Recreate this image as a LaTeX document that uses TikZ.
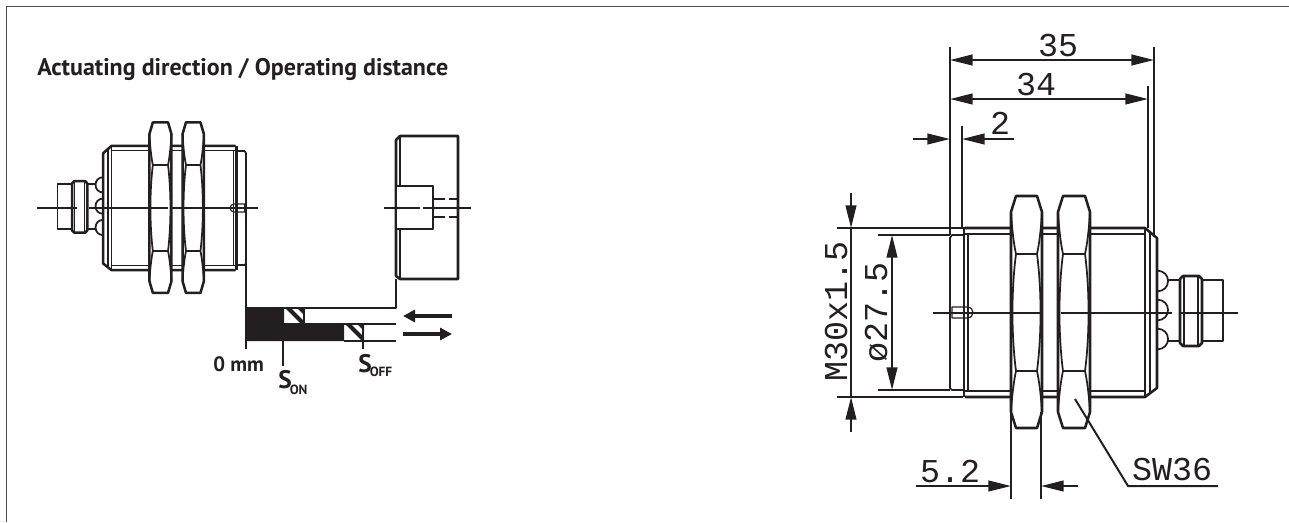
\documentclass[tikz,border=0pt]{standalone}
\usepackage{fontspec}
\usetikzlibrary{arrows.meta}
\setmainfont{PT Sans}
\newfontfamily\dimfont{Liberation Mono}
\definecolor{ink}{HTML}{231F20}
\tikzset{
  thin line/.style={draw=ink,line width=0.9pt,line join=round},
  med line/.style={draw=ink,line width=1.3pt,line join=round},
  hvy line/.style={draw=ink,line width=1.9pt,line join=round},
  dimline/.style={draw=ink,line width=1.5pt},
  tipL/.style={dimline,-{Triangle[length=17pt,width=8pt,fill=ink]}},
  tipB/.style={dimline,{Triangle[length=17pt,width=8pt,fill=ink]}-{Triangle[length=17pt,width=8pt,fill=ink]}},
  dimtext/.style={inner sep=0pt,text=ink,font=\dimfont\fontsize{25}{25}\selectfont},
  titletext/.style={inner sep=0pt,text=ink,font=\bfseries\fontsize{18}{20}\selectfont,anchor=base west},
  labeltext/.style={inner sep=0pt,text=ink,font=\bfseries\fontsize{15.6}{18}\selectfont,anchor=base west},
  subtext/.style={inner sep=0pt,text=ink,font=\bfseries\fontsize{10}{12}\selectfont,anchor=base west},
  bigS/.style={inner sep=0pt,text=ink,font=\bfseries\fontsize{19}{20}\selectfont,anchor=base west},
  flow arrow/.style={draw=ink,line width=2.4pt,-{Triangle[length=9pt,width=9pt,fill=ink]}},
}
% one sensor, in the coordinates of the right-hand drawing
\newcommand{\nutshape}[2]{% #1 left x, #2 right x
  \pgfmathsetmacro{\na}{#1+5}\pgfmathsetmacro{\nb}{#2-5}
  \pgfmathsetmacro{\nc}{#1+0.3}\pgfmathsetmacro{\nd}{#2-0.3}
  \draw[hvy line,fill=white] (\na,196) -- (\nb,196) -- (#2,212) -- (#2,412) -- (\nb,428) -- (\na,428) -- (#1,412) -- (#1,212) -- cycle;
  \draw[med line] (\na,254) -- (\nb,254) (\na,371) -- (\nb,371);
  \draw[med line] (#1,212) .. controls (#1+1,230) and (#1+3,245) .. (\na,254)
     .. controls (\nc,290) and (\nc,335) .. (\na,371)
     .. controls (#1+3,380) and (#1+1,395) .. (#1,412);
  \draw[med line] (#2,212) .. controls (#2-1,230) and (#2-3,245) .. (\nb,254)
     .. controls (\nd,290) and (\nd,335) .. (\nb,371)
     .. controls (#2-3,380) and (#2-1,395) .. (#2,412);
}
\newcommand{\sensorbody}{%
  % body and thread lines
  \draw[hvy line] (965,228) -- (1145,228) -- (1157,238) -- (1157,388) -- (1145,397) -- (965,397);
  \draw[thin line] (965,234) -- (1145,234) (965,391) -- (1145,391);
  \draw[med line] (1145,228) -- (1145,397) (1150,232) -- (1150,392);
  \draw[hvy line] (964,228) -- (964,397);
  \draw[thin line] (968,234) -- (968,391);
  % front cap
  \draw[med line] (963,235) -- (952,235) -- (950,238) -- (950,388) -- (952,390) -- (963,390);
  % pin slot
  \draw[thin line] (952,307) -- (967,307) .. controls (975,307) and (975,318) .. (967,318) -- (952,318) -- cycle;
  % nuts
  \nutshape{1011}{1042}
  \nutshape{1058}{1090}
  % cable bumps
  \foreach \c in {281,310,339}{
    \draw[med line] (1157,\c-10.5) .. controls (1164,\c-10) and (1168,\c-6) .. (1168,\c)
       .. controls (1168,\c+6) and (1164,\c+10) .. (1157,\c+10.5);
  }
  % plug
  \draw[med line] (1168,280) -- (1180,280) (1168,341) -- (1180,341);
  \draw[med line] (1202,280) -- (1223,280) -- (1223,341) -- (1202,341);
  \draw[hvy line] (1183,276) -- (1199,276) -- (1202,279) -- (1202,343) -- (1199,346) -- (1183,346) -- (1180,343) -- (1180,279) -- cycle;
  \draw[thin line] (1184,276) -- (1184,346) (1198,276) -- (1198,346);
}
\begin{document}
\begin{tikzpicture}[x=0.75pt,y=-0.75pt]
\useasboundingbox (0,0) rectangle (1289,522);
% frame
\draw[draw=ink!80,line width=1pt] (6.5,522) -- (6.5,6.5) -- (1289,6.5);
% title
\node[titletext] (title) at (37,75) {Actuating direction / Operating distance};

% ---- left sensor, mirrored and reduced
\begin{scope}[shift={(246,208)},xscale=-0.69,yscale=0.735,shift={(-950,-312.5)}]
  \sensorbody
\end{scope}
\draw[dimline] (37,208) -- (77,208) (89,208) -- (168,208) (171,208) -- (258,208);

% ---- target
\draw[hvy line] (400,136) -- (458,136) -- (458,279) -- (400,279) -- (396,276) -- (396,140) -- cycle;
\draw[med line] (400,136) -- (400,186) (400,229) -- (400,279);
\draw[hvy line,fill=white] (396,186) -- (433,186) -- (433,229) -- (396,229) -- cycle;
\draw[hvy line,dash pattern=on 9pt off 3pt] (433,199) -- (458,199) (433,217) -- (458,217);
\draw[dimline] (384,208) -- (420,208) (423,208) -- (471,208);

% ---- distance bars
\draw[hvy line] (246,263) -- (246,349);
\draw[hvy line] (246,308) -- (396,308) -- (396,279);
\fill[ink] (246,308) -- (284,308) -- (284,324) -- (344,324) -- (344,341) -- (246,341) -- cycle;
\begin{scope}
  \clip (284,308) rectangle (304,324);
  \draw[line width=3pt,ink] (286,306) -- (304,324);
  \draw[line width=3pt,ink] (298,306) -- (306,314);
\end{scope}
\begin{scope}
  \clip (344,324) rectangle (364,341);
  \draw[line width=3pt,ink] (346,322) -- (364,340);
  \draw[line width=3pt,ink] (358,322) -- (366,330);
\end{scope}
\draw[hvy line] (304,308) -- (304,324);
\draw[hvy line] (284,324) -- (396,324);
\draw[hvy line] (344,341) -- (396,341);
\draw[hvy line] (363,324) -- (363,349);
\draw[hvy line] (283,341) -- (283,366);
\coordinate (arrowLa) at (452,316); \coordinate (arrowLb) at (403,316);
\coordinate (arrowRa) at (403,334); \coordinate (arrowRb) at (452,334);
\draw[flow arrow] (arrowLa) -- (arrowLb);
\draw[flow arrow] (arrowRa) -- (arrowRb);
\node[labeltext] (zero) at (213,371) {0 mm};
\node[bigS] (son) at (278,388) {S};
\node[subtext] (sonb) at (289.5,394) {ON};
\node[bigS] (soff) at (358,372) {S};
\node[subtext] (soffb) at (369.5,376) {OFF};

% ---- right sensor
\sensorbody
\draw[dimline] (933,312.5) -- (1043,312.5) (1061,312.5) -- (1172,312.5) (1180,312.5) -- (1238,312.5);

% extension lines
\draw[dimline] (950,47) -- (950,235);
\draw[dimline] (962,126) -- (962,228);
\draw[dimline] (1154,47) -- (1154,237);
\draw[dimline] (1148,86) -- (1148,228);
\draw[dimline] (837,228) -- (1011,228);
\draw[dimline] (837,397) -- (963,397);
\draw[dimline] (878,235) -- (950,235);
\draw[dimline] (878,390) -- (950,390);
\draw[dimline] (1011,413) -- (1011,499);
\draw[dimline] (1041,412) -- (1041,499);
% dimension lines
\draw[tipB] (950,60) -- (1154,60);
\draw[tipB] (950,99) -- (1148,99);
\draw[tipL] (913,139) -- (950,139);
\draw[tipL] (1014,139) -- (962,139);
\draw[dimline] (851,228) -- (851,397);
\draw[tipL] (851,193) -- (851,228);
\draw[tipL] (851,432) -- (851,397);
\draw[tipB] (892,235) -- (892,390);
\draw[tipL] (916,486) -- (1011,486);
\draw[tipL] (1078,486) -- (1041,486);
% SW36 leader
\draw[dimline] (1075,399) -- (1128,486) -- (1218,486);
% dimension texts
\node[dimtext,anchor=base] (d35) at (1058,56) {35};
\node[dimtext,anchor=base] (d34) at (1036,95) {34};
\node[dimtext,anchor=base] (d2) at (1000,134) {2};
\node[dimtext,anchor=base,rotate=90] (dm) at (847,311) {M30x1.5};
\node[dimtext,anchor=base,rotate=90] (dd) at (887,312) {ø27.5};
\node[dimtext,anchor=base] (d52) at (950,482) {5.2};
\node[dimtext,anchor=base] (dsw) at (1172,480) {SW36};
\end{tikzpicture}
\end{document}
